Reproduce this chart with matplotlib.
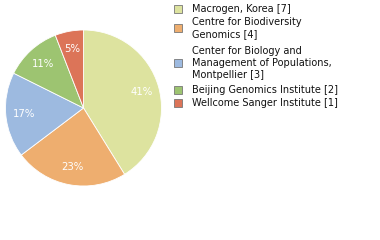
import matplotlib
matplotlib.use("Agg")
import matplotlib.pyplot as plt
from matplotlib.patches import Rectangle

labels = ["Macrogen, Korea", "Centre for Biodiversity\nGenomics",
          "Center for Biology and\nManagement of Populations,\nMontpellier",
          "Beijing Genomics Institute", "Wellcome Sanger Institute"]
counts = [7, 4, 3, 2, 1]
colors = ["#dde39f", "#eeae6f", "#9dbae0", "#9dc471", "#dc7458"]

fig = plt.figure(figsize=(3.8, 2.4), dpi=100)
ax = fig.add_axes([83.5/380 - 78/380, 1 - 108/240 - 78/240, 156/380, 156/240])
wedges, texts, autotexts = ax.pie(
    counts, colors=colors, startangle=90, counterclock=False,
    autopct=lambda p: f"{int(p + 1e-9)}%", pctdistance=0.77,
    wedgeprops=dict(edgecolor="white", linewidth=0.6),
    textprops=dict(color="white", fontsize=7.3))
ax.set_aspect("equal")
ax.set_xlim(-1, 1)
ax.set_ylim(-1, 1)
ax.axis("off")

# legend
ypix = [9, 28, 63, 90, 103]
for lab, c, n, y in zip(labels, colors, counts, ypix):
    fy = 1 - y / 240
    fig.patches.append(Rectangle((174/380, fy - 4/240), 8/380, 8/240,
                                 transform=fig.transFigure, facecolor=c,
                                 edgecolor="#777777", linewidth=0.6))
    fig.text(192/380, fy, f"{lab} [{n}]", fontsize=7.0, va="center", ha="left",
             color="#111111", linespacing=1.22)

fig.savefig("out.png", dpi=100)
